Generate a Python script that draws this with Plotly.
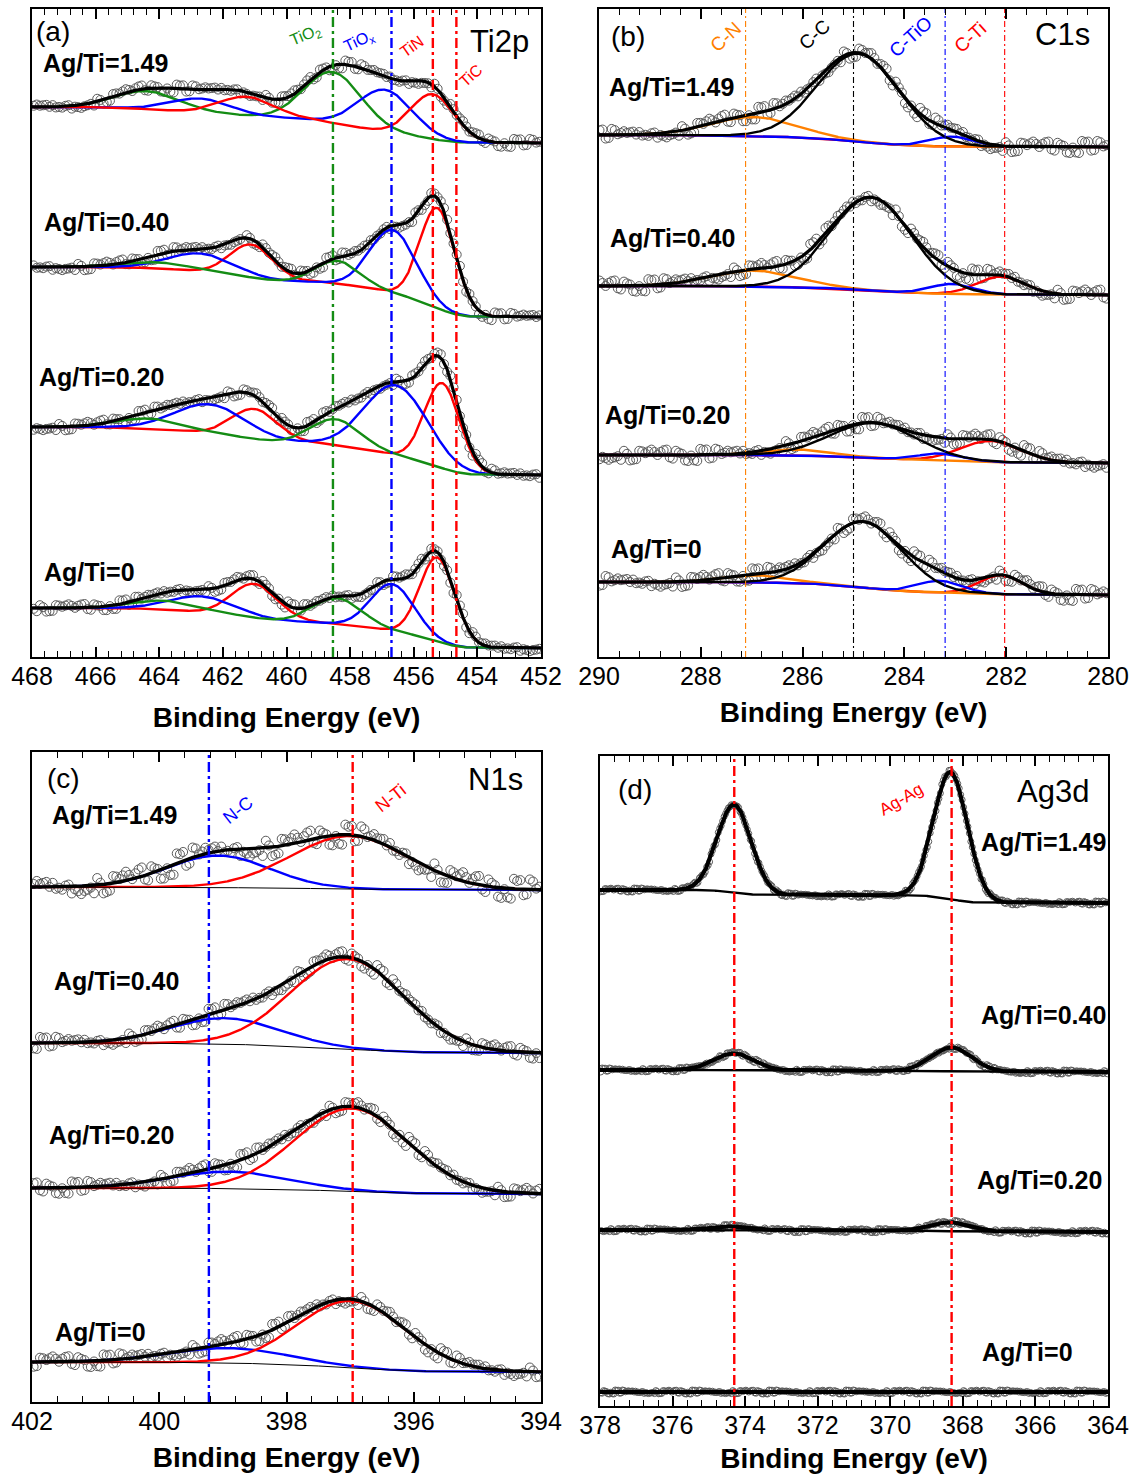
import numpy as np
import plotly.graph_objects as go

FONT = "Arial, 'Liberation Sans', sans-serif"
GREEN, BLUE, RED, ORANGE, BLACK = "#148c14", "#0000ff", "#ff0000", "#ff8000", "#000000"
POINT = "#5a5a5a"
NGRID = 1200

SAMPLES = ["Ag/Ti=1.49", "Ag/Ti=0.40", "Ag/Ti=0.20", "Ag/Ti=0"]

# residual pattern of the measured points about the fit (fraction of noise amplitude)
NOISE = [0.3, -0.8, 0.5, 1.0, -0.2, -0.9, 0.7, 0.1, -0.5, 0.9, -1.0, 0.4, 0.2,
         -0.6, 0.8, -0.3, 0.6, -0.9, 0.0, 0.7, -0.4, 1.0, -0.7, 0.3, -0.1, 0.5,
         -0.8, 0.9, -0.5, 0.2, 0.6, -1.0, 0.4, -0.2, 0.8, -0.6, 0.1, 0.7, -0.9,
         0.3, -0.4, 0.5, 0.9, -0.3, -0.7, 0.2, 0.6, -0.5, 0.0, 0.8, -0.1, -0.8, 0.4]

# ---------------- Ti2p (spectra order: 1.49, 0.40, 0.20, 0) ----------------
TI_RANGE = [468, 452]
TI_YMAX = 648
TI_BG_HIGH = [550, 390, 230, 49]
TI_BG_LOW = [514, 340, 182, 9]
TIO2_E = [458.54, 458.40, 458.45, 458.40]
TIO2_H = [51, 23, 26, 26]
TIO2_W = [2.1, 1.6, 1.8, 1.8]
TIO2_E2 = [464.4, 464.0, 464.3, 463.8]
TIO2_H2 = [18, 6, 10, 9]
TIO2_W2 = [2.4, 2.4, 2.4, 2.4]
TIOX_E = [456.90, 456.65, 456.55, 456.67]
TIOX_H = [42, 63, 70, 47]
TIOX_W = [2.0, 1.7, 2.3, 1.6]
TIOX_E2 = [462.7, 462.7, 462.4, 462.65]
TIOX_H2 = [14, 18, 29, 16]
TIOX_W2 = [2.2, 2.4, 2.6, 2.4]
TIN_E = [455.40, 455.25, 455.10, 455.25]
TIN_H = [45, 100, 85, 84]
TIN_W = [1.6, 1.3, 1.3, 1.3]
TIN_E2 = [461.25, 461.10, 461.00, 461.00]
TIN_H2 = [19, 33, 30, 34]
TIN_W2 = [2.0, 1.6, 1.7, 1.7]
TI_REF_E = [458.54, 456.70, 455.40, 454.66]
TI_REF_LABELS = ["TiO<sub>2</sub>", "TiO<sub>x</sub>", "TiN", "TiC"]

# ---------------- C1s ----------------
C_RANGE = [290, 280]
C_YMAX = 648
C_BG_HIGH = [522, 371, 202, 75]
C_BG_LOW = [510, 362, 194, 62]
CC_E = [284.90, 284.65, 284.60, 284.80]
CC_H = [88, 93, 35, 66]
CC_W = [1.9, 1.9, 2.0, 1.8]
CN_E = [286.95, 286.95, 286.10, 286.90]
CN_H = [19, 16, 6, 7]
CN_W = [2.0, 2.0, 1.5, 1.5]
CTIO_E = [283.06, 283.06, 283.30, 283.30]
CTIO_H = [10, 10, 7, 12]
CTIO_W = [1.0, 1.0, 1.0, 1.0]
CTI_E = [282.10, 282.10, 282.30, 282.10]
CTI_H = [0, 18, 21, 19]
CTI_W = [1.1, 1.1, 1.4, 1.0]
C_REF_E = [287.12, 285.00, 283.20, 282.03]
C_REF_LABELS = ["C-N", "C-C", "C-TiO", "C-Ti"]

# ---------------- N1s ----------------
N_RANGE = [402, 394]
N_YMAX = 650
N_BG_HIGH = [515, 359, 214, 40]
N_BG_LOW = [512, 349, 208, 30]
NTI_E = [397.00, 397.03, 396.97, 396.97]
NTI_H = [53, 90, 83, 67]
NTI_W = [2.2, 2.1, 2.1, 2.0]
NC_E = [399.07, 398.96, 398.90, 398.90]
NC_H = [32, 26, 17, 15]
NC_W = [1.9, 2.0, 2.2, 2.2]
N_REF_E = [399.22, 396.96]
N_REF_LABELS = ["N-C", "N-Ti"]

# ---------------- Ag3d ----------------
AG_RANGE = [378, 364]
AG_YMAX = 650
AG_BG_HIGH = [516, 336, 176, 14]
AG_BG_LOW = [503, 334, 174, 14]
AG32_E = [374.30, 374.30, 374.30, 374.30]
AG32_H = [88, 17, 4, 0]
AG52_E = [368.34, 368.30, 368.30, 368.30]
AG52_H = [127, 24, 9, 0]
AG_W = [1.1, 1.3, 1.3, 1.3]
AG_REF_E = [374.30, 368.31]


def gauss(x, e, h, w):
    return h * np.exp(-4.0 * np.log(2.0) * (x - e) ** 2 / w ** 2)


def shirley(total, high, low):
    cum = np.cumsum(total)
    if cum[-1] <= 0:
        return np.full_like(total, low, dtype=float)
    return low + (high - low) * cum / cum[-1]


fig = go.Figure()


def add_spectrum(ax, x, comps, bg_high, bg_low, pt_step, amp, shift,
                 msize, total_width, comp_width, bg_line=None):
    xs = "x" if ax == 1 else f"x{ax}"
    ys = "y" if ax == 1 else f"y{ax}"
    total = np.zeros_like(x)
    for _, c in comps:
        total = total + c
    bg = shirley(total, bg_high, bg_low)
    fit = bg + total
    xp = np.arange(x[0] + pt_step / 2, x[-1], pt_step)
    yp = np.interp(xp, x, fit)
    yp = yp + np.array([NOISE[(i * 7 + shift) % len(NOISE)] for i in range(len(xp))]) * amp
    fig.add_trace(go.Scatter(x=xp, y=yp, mode="markers", xaxis=xs, yaxis=ys,
                             marker=dict(symbol="circle-open", size=msize, color=POINT,
                                         line=dict(width=1))))
    for colour, c in comps:
        fig.add_trace(go.Scatter(x=x, y=bg + c, mode="lines", xaxis=xs, yaxis=ys,
                                 line=dict(color=colour, width=comp_width)))
    if bg_line is not None:
        fig.add_trace(go.Scatter(x=x, y=bg, mode="lines", xaxis=xs, yaxis=ys,
                                 line=dict(color=BLACK, width=bg_line)))
    fig.add_trace(go.Scatter(x=x, y=fit, mode="lines", xaxis=xs, yaxis=ys,
                             line=dict(color=BLACK, width=total_width)))


def add_ref(ax, e, ymax, colour, width, dash):
    xs = "x" if ax == 1 else f"x{ax}"
    ys = "y" if ax == 1 else f"y{ax}"
    fig.add_trace(go.Scatter(x=[e, e], y=[0, ymax], mode="lines", xaxis=xs, yaxis=ys,
                             line=dict(color=colour, width=width, dash=dash)))


# ---- panel (a) Ti2p ----
for i in range(4):
    x = np.linspace(452, 468, NGRID)
    green = gauss(x, TIO2_E[i], TIO2_H[i], TIO2_W[i]) + gauss(x, TIO2_E2[i], TIO2_H2[i], TIO2_W2[i])
    blue = gauss(x, TIOX_E[i], TIOX_H[i], TIOX_W[i]) + gauss(x, TIOX_E2[i], TIOX_H2[i], TIOX_W2[i])
    red = gauss(x, TIN_E[i], TIN_H[i], TIN_W[i]) + gauss(x, TIN_E2[i], TIN_H2[i], TIN_W2[i])
    if i == 0:
        comps = [(GREEN, green), (BLUE, blue), (RED, red)]
    else:
        comps = [(RED, red), (BLUE, blue), (GREEN, green)]
    add_spectrum(1, x, comps, TI_BG_HIGH[i], TI_BG_LOW[i], 0.1, 4, i * 11,
                 9, 3.2, 2.4)
for e, col in zip(TI_REF_E, [GREEN, BLUE, RED, RED]):
    add_ref(1, e, TI_YMAX, col, 2.4, "10px,4px,3px,4px")

# ---- panel (b) C1s ----
for i in range(4):
    x = np.linspace(280, 290, NGRID)
    comps = [(RED, gauss(x, CTI_E[i], CTI_H[i], CTI_W[i])),
             (ORANGE, gauss(x, CN_E[i], CN_H[i], CN_W[i])),
             (BLUE, gauss(x, CTIO_E[i], CTIO_H[i], CTIO_W[i])),
             (BLACK, gauss(x, CC_E[i], CC_H[i], CC_W[i]))]
    add_spectrum(2, x, comps, C_BG_HIGH[i], C_BG_LOW[i], 0.06, 6, i * 13,
                 9, 3.2, 2.4)
for e, col in zip(C_REF_E, [ORANGE, BLACK, BLUE, RED]):
    add_ref(2, e, C_YMAX, col, 1.1, "6px,3px,2px,3px")

# ---- panel (c) N1s ----
for i in range(4):
    x = np.linspace(394, 402, NGRID)
    comps = [(BLUE, gauss(x, NC_E[i], NC_H[i], NC_W[i])),
             (RED, gauss(x, NTI_E[i], NTI_H[i], NTI_W[i]))]
    add_spectrum(3, x, comps, N_BG_HIGH[i], N_BG_LOW[i], 0.05, 10 if i == 0 else 6,
                 i * 17, 9, 3.4, 2.4, bg_line=1)
for e, col in zip(N_REF_E, [BLUE, RED]):
    add_ref(3, e, N_YMAX, col, 2.4, "10px,4px,3px,4px")

# ---- panel (d) Ag3d ----
for i in range(4):
    x = np.linspace(364, 378, NGRID)
    peaks = gauss(x, AG32_E[i], AG32_H[i], AG_W[i]) + gauss(x, AG52_E[i], AG52_H[i], AG_W[i])
    add_spectrum(4, x, [(BLACK, peaks)], AG_BG_HIGH[i], AG_BG_LOW[i], 0.04, 2,
                 i * 5, 6, 4.0, 3.0, bg_line=2.4)
for e in AG_REF_E:
    add_ref(4, e, AG_YMAX, RED, 2.4, "10px,4px,3px,4px")

# ---------------- axes ----------------
W, H = 1136, 1477
panels = [
    (1, TI_RANGE, TI_YMAX, (32, 541), (9, 657), 18),
    (2, C_RANGE, C_YMAX, (599, 1108), (9, 657), 13),
    (3, N_RANGE, N_YMAX, (32, 541), (752, 1402), 13),
    (4, AG_RANGE, AG_YMAX, (600, 1108), (756, 1406), 10),
]
layout = dict(width=W, height=H, margin=dict(l=0, r=0, t=0, b=0),
              paper_bgcolor="white", plot_bgcolor="white", showlegend=False,
              font=dict(family=FONT, color="black"))
for ax, xr, ymax, (px0, px1), (py0, py1), tstand in panels:
    sfx = "" if ax == 1 else str(ax)
    layout["xaxis" + sfx] = dict(
        range=xr, domain=[px0 / W, px1 / W], anchor="y" + sfx,
        showline=True, linecolor="black", linewidth=2, mirror="ticks",
        ticks="inside", ticklen=10, tickwidth=1.6, tickcolor="black",
        tick0=0, dtick=2, showgrid=False, zeroline=False,
        minor=dict(ticks="inside", ticklen=6, tickwidth=1.4, tickcolor="black",
                   tick0=0, dtick=0.4, showgrid=False),
        tickfont=dict(size=25, family=FONT, color="black"), ticklabelstandoff=-4,
        title=dict(text="<b>Binding Energy (eV)</b>", font=dict(size=28, family=FONT),
                   standoff=tstand),
        automargin=False)
    layout["yaxis" + sfx] = dict(
        range=[0, ymax], domain=[1 - py1 / H, 1 - py0 / H], anchor="x" + sfx,
        showline=True, linecolor="black", linewidth=2, mirror=True,
        ticks="", showticklabels=False, showgrid=False, zeroline=False,
        automargin=False)
fig.update_layout(**layout)

# ---------------- text ----------------
ann = []


def text(ax, s, x, y, size, colour="black", bold=False, angle=0, xanchor="center"):
    sfx = "" if ax == 1 else str(ax)
    ann.append(dict(xref="x" + sfx, yref="y" + sfx, x=x, y=y,
                    text=f"<b>{s}</b>" if bold else s, showarrow=False,
                    textangle=angle, xanchor=xanchor, yanchor="middle",
                    font=dict(size=size, color=colour, family=FONT)))


# panel letters and core levels
text(1, "(a)", 467.35, 625, 28)
text(1, "Ti2p", 453.3, 615, 31)
text(2, "(b)", 289.43, 620, 28)
text(2, "C1s", 280.9, 622, 31)
text(3, "(c)", 401.5, 624, 28)
text(3, "N1s", 394.72, 623, 31)
text(4, "(d)", 377.04, 616, 28)
text(4, "Ag3d", 365.52, 614, 31)

# sample labels
for s, xv, yv in zip(SAMPLES, [467.72, 467.68, 467.84, 467.68], [594, 435, 280, 85]):
    text(1, s, xv, yv, 25, bold=True, xanchor="left")
for s, xv, yv in zip(SAMPLES, [289.84, 289.82, 289.92, 289.80], [570, 419, 242, 108]):
    text(2, s, xv, yv, 25, bold=True, xanchor="left")
for s, xv, yv in zip(SAMPLES, [401.71, 401.69, 401.77, 401.67], [587, 421, 267, 70]):
    text(3, s, xv, yv, 25, bold=True, xanchor="left")
for s, xv, yv in zip(SAMPLES, [367.56, 367.56, 367.67, 367.53], [564, 391, 226, 54]):
    text(4, s, xv, yv, 25, bold=True, xanchor="left")

# bond labels
for s, xv, yv, col, ang in zip(TI_REF_LABELS, [459.39, 457.72, 456.06, 454.20],
                               [621, 615, 610, 581], [GREEN, BLUE, RED, RED],
                               [-22, -25, -35, -42]):
    text(1, s, xv, yv, 16, colour=col, angle=ang)
for s, xv, yv, col in zip(C_REF_LABELS, [287.50, 285.76, 283.87, 282.71],
                          [620, 622, 620, 619], [ORANGE, BLACK, BLUE, RED]):
    text(2, s, xv, yv, 19, colour=col, angle=-42)
for s, xv, yv, col in zip(N_REF_LABELS, [398.76, 396.36], [592, 604], [BLUE, RED]):
    text(3, s, xv, yv, 18, colour=col, angle=-38)
text(4, "Ag-Ag", 369.70, 606, 17, colour=RED, angle=-30)

fig.update_layout(annotations=ann)
fig.write_html("out.html")
